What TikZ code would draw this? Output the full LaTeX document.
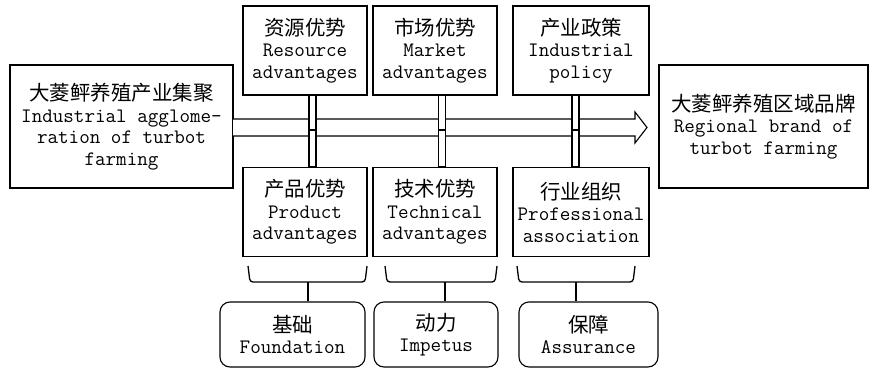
\documentclass[tikz,border=0pt]{standalone}
\usepackage{fontspec}
\newfontfamily\cjk{Noto Sans CJK SC}
\usetikzlibrary{positioning,calc}
\newcommand{\zh}[1]{{\cjk\fontsize{20.5}{21.5}\selectfont #1}}
\tikzset{
  figfont/.style={font=\fontsize{20.5}{21.5}\selectfont\ttfamily},
  figline/.style={line width=1.1pt},
  figbox/.style={draw, figline, align=center, inner sep=0pt},
  figtopbox/.style={figbox, minimum height=89pt},
  figbigbox/.style={figbox, minimum height=123pt},
  figroundbox/.style={figbox, rounded corners=10pt, minimum height=65pt},
  figbrace/.style={line width=1.3pt, rounded corners=3pt},
  figstub/.style={line width=2.6pt},
}

\begin{document}
\begin{tikzpicture}[x=1pt, y=-1pt, figfont]
		\useasboundingbox (0,0) rectangle (870,369);
		% Left and right boxes
		\node[figbigbox, minimum width=223pt] (clus) at (121.5,126.5)
			{\zh{大菱鲆养殖产业集聚}\\Industrial agglome-\\ration of turbot\\farming};
		\node[figbigbox, minimum width=209pt] (brand) at (763.5,126.5)
			{\zh{大菱鲆养殖区域品牌}\\Regional brand of\\turbot farming};

		% Main arrow
		\draw[figline, fill=white] (233,119) -- (635,119) -- (635,112) -- (647,127.5)
			-- (635,143) -- (635,136) -- (233,136);

		% Double connectors
		\foreach \x in {312.5,442,575.5} {
			\draw[figline, fill=white] (\x-3.5,95) rectangle (\x+3.5,167);
			\draw[figline] (\x-3.5,130) -- (\x+3.5,130);
		}

		% Upper row
		\node[figtopbox, minimum width=124pt] (res) at (305,50.5)
			{\zh{资源优势}\\Resource\\advantages};
		\node[figtopbox, minimum width=124pt] (mkt) at (435,50.5)
			{\zh{市场优势}\\Market\\advantages};
		\node[figtopbox, minimum width=136pt] (pol) at (581,50.5)
			{\zh{产业政策}\\Industrial\\policy};

		% Lower row
		\node[figtopbox, minimum width=124pt] (prod) at (305,212)
			{\zh{产品优势}\\Product\\advantages};
		\node[figtopbox, minimum width=124pt] (tech) at (435,212)
			{\zh{技术优势}\\Technical\\advantages};
		\node[figtopbox, minimum width=136pt] (assoc) at (581,212)
			{\zh{行业组织}\\Professional\\association};

		% Bottom rounded boxes
		\node[figroundbox, minimum width=145pt] (base) at (292.5,334.5)
			{\zh{基础}\\Foundation};
		\node[figroundbox, minimum width=124pt] (imp) at (436,334.5)
			{\zh{动力}\\Impetus};
		\node[figroundbox, minimum width=139pt] (assur) at (588.5,334.5)
			{\zh{保障}\\Assurance};

		% Brackets
		\draw[figbrace] (248,266) -- (250,282) -- (365,282) -- (367,266);
		\draw[figbrace] (385,266) -- (387,282) -- (495,282) -- (497,266);
		\draw[figbrace] (517,266) -- (519,282) -- (633,282) -- (635,266);
		\coordinate (tip1) at (308,282);
		\coordinate (tip2) at (445,282);
		\coordinate (tip3) at (576,282);
		\draw[figstub] (tip1) -- (tip1 |- base.north);
		\draw[figstub] (tip2) -- (tip2 |- imp.north);
		\draw[figstub] (tip3) -- (tip3 |- assur.north);
	\end{tikzpicture}
\end{document}
